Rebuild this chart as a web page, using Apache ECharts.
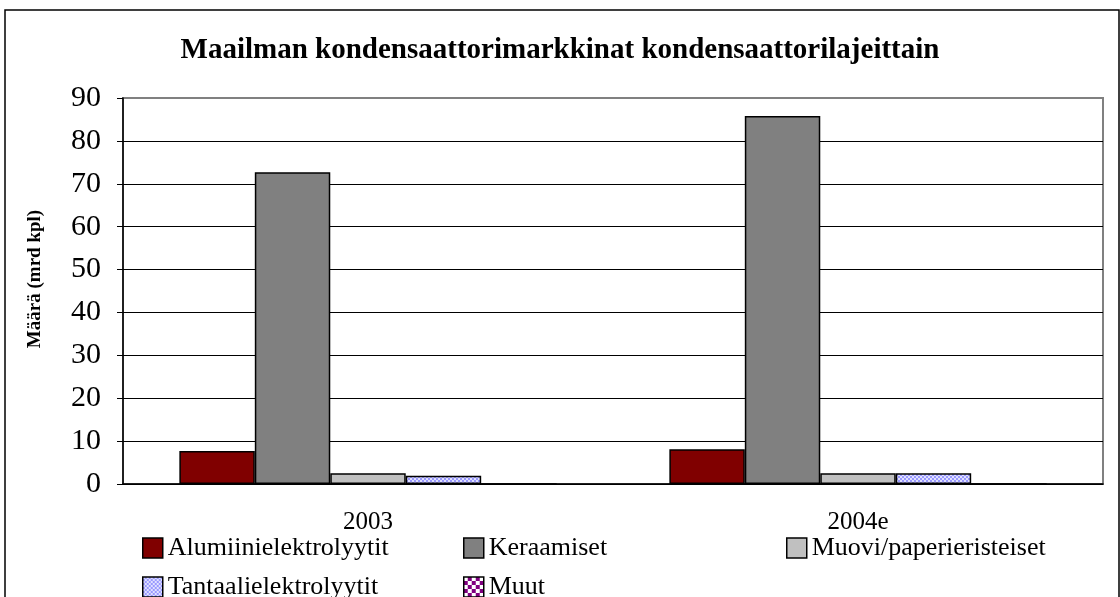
<!DOCTYPE html>
<html>
<head>
<meta charset="utf-8">
<script src="https://cdn.jsdelivr.net/npm/echarts@6/dist/echarts.min.js"></script>
<style>
  html, body { margin: 0; padding: 0; background: #fff; }
  #chart { width: 1120px; height: 597px; }
</style>
</head>
<body>
<div id="chart"></div>
<script>
const categories = ['2003', '2004e'];
const seriesNames = ['Alumiinielektrolyytit', 'Keraamiset', 'Muovi/paperieristeiset', 'Tantaalielektrolyytit', 'Muut'];
const alumiini = [7.7, 8.1];
const keraamiset = [72.7, 85.8];
const muovi = [2.5, 2.5];
const tantaali = [1.9, 2.5];
const muut = [0, 0];
const yTicks = [0, 10, 20, 30, 40, 50, 60, 70, 80, 90];

// small checker canvases for the patterned fills
const checker = (c1, c2, size) => {
    const cv = document.createElement('canvas');
    cv.width = cv.height = size * 2;
    const ctx = cv.getContext('2d');
    ctx.fillStyle = c1;
    ctx.fillRect(0, 0, size * 2, size * 2);
    ctx.fillStyle = c2;
    ctx.fillRect(0, 0, size, size);
    ctx.fillRect(size, size, size, size);
    return { image: cv, repeat: 'repeat' };
};

const colors = ['#800000', '#808080', '#c0c0c0', checker('#9999ff', '#e0e0ff', 2), checker('#800080', '#ffffff', 4)];
const values = [alumiini, keraamiset, muovi, tantaali, muut];
const serif = '"Liberation Serif", "Times New Roman", serif';

const legendPos = [
    { left: 142, top: 535 },
    { left: 463, top: 535 },
    { left: 786, top: 535 },
    { left: 142, top: 574 },
    { left: 463, top: 574 }
];

// top gridline is part of the grey plot frame
const gridColors = yTicks.map((t, i) => i === yTicks.length - 1 ? '#808080' : '#000');

const myChart = echarts.init(document.getElementById('chart'));
const option = {
    animation: false,
    backgroundColor: '#fff',
    title: {
        text: 'Maailman kondensaattorimarkkinat kondensaattorilajeittain',
        left: 'center',
        top: 31,
        textStyle: { fontFamily: serif, fontSize: 29, fontWeight: 'bold', color: '#000' }
    },
    graphic: [{
        type: 'rect',
        shape: { x: 5, y: 10, width: 1114, height: 620 },
        style: { fill: 'none', stroke: '#000', lineWidth: 1.5 },
        silent: true
    }],
    legend: legendPos.map((p, i) => ({
        data: [seriesNames[i]],
        left: p.left,
        top: p.top,
        padding: 0,
        icon: 'rect',
        itemWidth: 20,
        itemHeight: 20,
        selectedMode: false,
        itemStyle: { borderColor: '#000', borderWidth: 1.5 },
        textStyle: { fontFamily: serif, fontSize: 26, color: '#000' }
    })),
    grid: {
        left: 123,
        right: 17,
        top: 98,
        bottom: 113,
        show: true,
        borderColor: '#808080',
        borderWidth: 2
    },
    xAxis: {
        type: 'category',
        data: categories,
        axisLine: { lineStyle: { color: '#000', width: 1.5 } },
        axisTick: { length: 9, lineStyle: { color: '#000' } },
        axisLabel: { margin: 26, fontFamily: serif, fontSize: 25, color: '#000' }
    },
    yAxis: {
        type: 'value',
        min: yTicks[0],
        max: yTicks[yTicks.length - 1],
        interval: 10,
        name: 'Määrä (mrd kpl)',
        nameLocation: 'middle',
        nameGap: 78,
        nameTextStyle: { fontFamily: serif, fontSize: 19, fontWeight: 'bold', color: '#000', padding: [0, 0, 0, 24] },
        axisLine: { show: true, lineStyle: { color: '#000', width: 1.5 } },
        axisTick: { show: true, length: 6, lineStyle: { color: '#000' } },
        axisLabel: { margin: 22, fontFamily: serif, fontSize: 30, color: '#000' },
        splitLine: { lineStyle: { color: gridColors, width: 1 } }
    },
    series: seriesNames.map((name, i) => ({
        name: name,
        type: 'bar',
        data: values[i],
        barGap: '0%',
        barCategoryGap: '23%',
        itemStyle: { color: colors[i], borderColor: '#000', borderWidth: 1.5 }
    }))
};

myChart.setOption(option);
</script>
</body>
</html>
